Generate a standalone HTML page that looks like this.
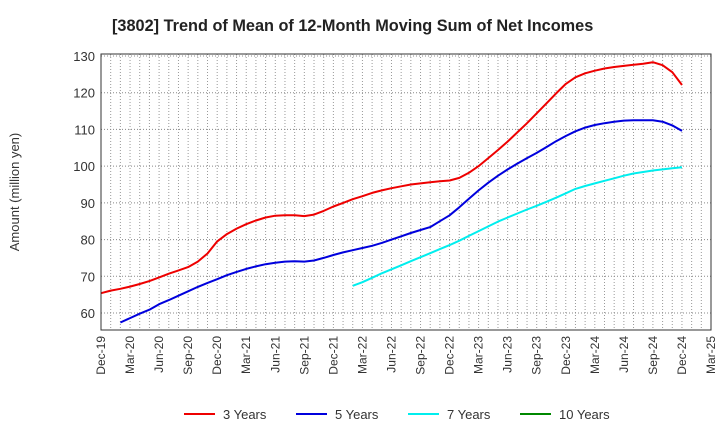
<!DOCTYPE html>
<html><head><meta charset="utf-8"><style>
body{margin:0;background:#fff;font-family:"Liberation Sans",sans-serif}
svg text{font-family:"Liberation Sans",sans-serif}
</style></head><body>
<svg id="c" width="720" height="440">
<text x="112" y="31" font-size="16.3" font-weight="bold" fill="#222">[3802]  Trend of Mean of 12-Month Moving Sum of Net Incomes</text>
<text transform="translate(19,192) rotate(-90)" text-anchor="middle" font-size="13" fill="#333">Amount (million yen)</text>
<g id="grid"></g><g id="series"></g><g id="axes"></g>
<g>
<g><line x1="184" y1="414" x2="215" y2="414" stroke="#e00" stroke-width="2"/><text x="223" y="419" font-size="13" fill="#333">3 Years</text></g>
<g><line x1="296" y1="414" x2="327" y2="414" stroke="#00d" stroke-width="2"/><text x="335" y="419" font-size="13" fill="#333">5 Years</text></g>
<g><line x1="408" y1="414" x2="439" y2="414" stroke="#0ee" stroke-width="2"/><text x="447" y="419" font-size="13" fill="#333">7 Years</text></g>
<g><line x1="520" y1="414" x2="551" y2="414" stroke="#080" stroke-width="2"/><text x="559" y="419" font-size="13" fill="#333">10 Years</text></g>
</g>
</svg>
<script>
const xLabels=["Dec-19","Mar-20","Jun-20","Sep-20","Dec-20","Mar-21","Jun-21","Sep-21","Dec-21","Mar-22","Jun-22","Sep-22","Dec-22","Mar-23","Jun-23","Sep-23","Dec-23","Mar-24","Jun-24","Sep-24","Dec-24","Mar-25"];
const yTicks=[60,70,80,90,100,110,120,130];
const red=[65.4,66.1,66.6,67.2,67.9,68.7,69.7,70.7,71.6,72.5,74,76.2,79.5,81.5,83,84.2,85.2,86,86.5,86.6,86.6,86.4,86.8,87.8,89,90,91,91.8,92.7,93.4,94,94.5,95,95.3,95.6,95.9,96.1,96.8,98.2,100,102.2,104.4,106.7,109.2,111.7,114.4,117.1,119.8,122.4,124.2,125.3,126,126.6,127,127.3,127.6,127.9,128.3,127.5,125.6,122.1];
const blueStart=2;
const blue=[57.4,58.6,59.8,60.9,62.4,63.5,64.7,65.9,67.1,68.2,69.2,70.3,71.2,72,72.7,73.3,73.7,74,74.1,74,74.3,75,75.8,76.5,77.1,77.7,78.3,79.1,80,80.9,81.8,82.6,83.4,85,86.6,88.8,91.1,93.4,95.5,97.4,99.1,100.7,102.2,103.6,105.2,106.8,108.2,109.5,110.5,111.2,111.7,112.1,112.4,112.5,112.5,112.5,112.1,111.1,109.6];
const cyanStart=26;
const cyan=[67.4,68.4,69.6,70.8,71.9,73,74.1,75.2,76.3,77.4,78.5,79.7,81,82.3,83.6,84.9,86,87.1,88.2,89.2,90.3,91.4,92.6,93.8,94.6,95.3,96,96.7,97.4,98,98.4,98.8,99.1,99.4,99.7];
const green=[];
const L=101,R=711,T=54,B=330;
const mW=(R-L)/63;
const X=m=>L+m*mW;
const Y=v=>56+(130-v)*(313-56)/70;
const NS="http://www.w3.org/2000/svg";
function mk(t,a,p){const e=document.createElementNS(NS,t);for(const k in a)e.setAttribute(k,a[k]);p.appendChild(e);return e;}
const grid=document.getElementById('grid'),axes=document.getElementById('axes'),ser=document.getElementById('series');
for(let m=1;m<63;m++){const l=mk('line',{x1:X(m),x2:X(m),y1:T,y2:B,stroke:'#999','stroke-dasharray':'1,2','stroke-width':1},grid);

}
yTicks.forEach(v=>{const l=mk('line',{x1:L,x2:R,y1:Y(v),y2:Y(v),stroke:'#888','stroke-dasharray':'1,2','stroke-width':1},grid);


const t=mk('text',{x:L-6,y:Y(v)+5,'text-anchor':'end','font-size':13,fill:'#333'},axes);t.textContent=v;

});
const fr=mk('rect',{x:L,y:T,width:R-L,height:B-T,fill:'none',stroke:'#333','stroke-width':1},axes);


xLabels.forEach((s,i)=>{const x=X(i*3);const t=mk('text',{transform:`translate(${x+4},${B+6}) rotate(-90)`,'text-anchor':'end','font-size':12,fill:'#333'},axes);t.textContent=s;

});
function line(arr,start,color,name){if(!arr.length)return;const d=arr.map((v,i)=>(i?'L':'M')+X(start+i).toFixed(1)+','+Y(v).toFixed(1)).join('');
const p=mk('path',{d:d,fill:'none',stroke:color,'stroke-width':2,'stroke-linejoin':'round'},ser);

}
line(red,0,'#e00','line-3-years');
line(blue,blueStart,'#00d','line-5-years');
line(cyan,cyanStart,'#0ee','line-7-years');
line(green,0,'#080','line-10-years');
</script>
</body></html>
